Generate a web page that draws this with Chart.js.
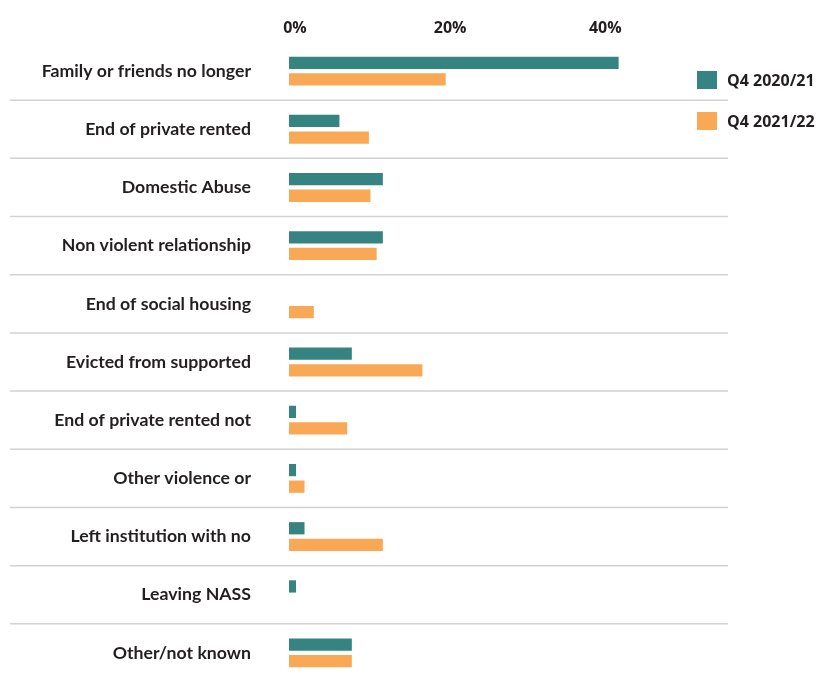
<!DOCTYPE html>
<html lang="en">

<head>
    <meta charset="UTF-8">
    <title>Reasons for homelessness</title>
    <script src="https://cdn.jsdelivr.net/npm/chart.js"></script>
    <style>
        html, body {
            margin: 0;
            padding: 0;
            background: #ffffff;
        }

        #container {
            position: relative;
            width: 820px;
            height: 687px;
        }

        #legend {
            position: absolute;
            left: 697px;
            top: 71px;
            font-family: "Open Sans", "Liberation Sans", sans-serif;
            font-weight: bold;
            font-size: 16px;
            color: #231f20;
        }

        #legend div {
            display: flex;
            align-items: center;
            height: 18px;
            margin-bottom: 23px;
        }

        #legend span {
            display: inline-block;
            width: 20px;
            height: 18px;
            margin-right: 10px;
        }
    </style>
</head>

<body>
    <div id="container">
        <canvas id="mycanvas" width="820" height="687"></canvas>
        <div id="legend"></div>
    </div>

    <script>
        const categories = [
            'Family or friends no longer',
            'End of private rented',
            'Domestic Abuse',
            'Non violent relationship',
            'End of social housing',
            'Evicted from supported',
            'End of private rented not',
            'Other violence or',
            'Left institution with no',
            'Leaving NASS',
            'Other/not known'
        ]
        const seriesNames = ['Q4 2020/21', 'Q4 2021/22']
        const q4_2020 = [42.5, 6.5, 12.1, 12.1, 0, 8.1, 0.9, 0.9, 2, 0.9, 8.1]
        const q4_2021 = [20.2, 10.3, 10.5, 11.3, 3.2, 17.2, 7.5, 2, 12.1, 0, 8.1]
        const tickValues = [0, 20, 40]

        const colors = ['#368482', '#f9a856']
        const textColor = '#231f20'
        const labelFont = 'Lato, "Liberation Sans", sans-serif'
        const tickFont = '"Open Sans", "Liberation Sans", sans-serif'

        // lines between the category rows, running under the labels too
        const rowLines = {
            id: 'rowLines',
            beforeDatasetsDraw(chart) {
                const y = chart.scales.y
                const ctx = chart.ctx
                ctx.save()
                ctx.strokeStyle = '#d2d2d2'
                ctx.lineWidth = 1.5
                for (let i = 1; i < categories.length; i++) {
                    const py = (y.getPixelForValue(i - 1) + y.getPixelForValue(i)) / 2
                    ctx.beginPath()
                    ctx.moveTo(10, py)
                    ctx.lineTo(chart.chartArea.right, py)
                    ctx.stroke()
                }
                ctx.restore()
            }
        }

        function createChart() {
            const chart = new Chart(document.getElementById('mycanvas'), {
                type: 'bar',
                data: {
                    labels: categories,
                    datasets: [
                        { label: seriesNames[0], data: q4_2020, backgroundColor: colors[0] },
                        { label: seriesNames[1], data: q4_2021, backgroundColor: colors[1] }
                    ]
                },
                options: {
                    indexAxis: 'y',
                    responsive: false,
                    animation: false,
                    categoryPercentage: 0.57,
                    barPercentage: 0.74,
                    layout: {
                        padding: { left: 0, right: 92, top: 0, bottom: 5 }
                    },
                    plugins: {
                        legend: { display: false },
                        tooltip: { enabled: false }
                    },
                    scales: {
                        x: {
                            position: 'top',
                            min: 0,
                            max: 56.6,
                            afterFit: (scale) => { scale.height = 42 },
                            afterBuildTicks: (scale) => {
                                scale.ticks = tickValues.map(v => ({ value: v }))
                            },
                            grid: { display: false, drawTicks: false },
                            border: { display: false },
                            ticks: {
                                padding: 4,
                                labelOffset: 6,
                                color: textColor,
                                font: { family: tickFont, weight: 'bold', size: 16 },
                                callback: (v) => v + '%'
                            }
                        },
                        y: {
                            // fixed label column; no extra room above/below the rows
                            afterFit: (scale) => {
                                scale.width = 289
                                scale.paddingTop = 0
                                scale.paddingBottom = 0
                            },
                            grid: { display: false, drawTicks: false },
                            border: { display: false },
                            ticks: {
                                padding: 38,
                                color: textColor,
                                font: { family: labelFont, weight: 'bold', size: 17.7 }
                            }
                        }
                    }
                },
                plugins: [rowLines]
            })

            // legend boxes drawn next to the plot
            const legend = document.getElementById('legend')
            chart.data.datasets.forEach((ds) => {
                const item = document.createElement('div')
                const box = document.createElement('span')
                box.style.background = ds.backgroundColor
                item.appendChild(box)
                item.appendChild(document.createTextNode(ds.label))
                legend.appendChild(item)
            })
        }

        Promise.all([
            document.fonts.load('bold 18px Lato'),
            document.fonts.load('bold 16px "Open Sans"')
        ]).finally(createChart)
    </script>
</body>

</html>
